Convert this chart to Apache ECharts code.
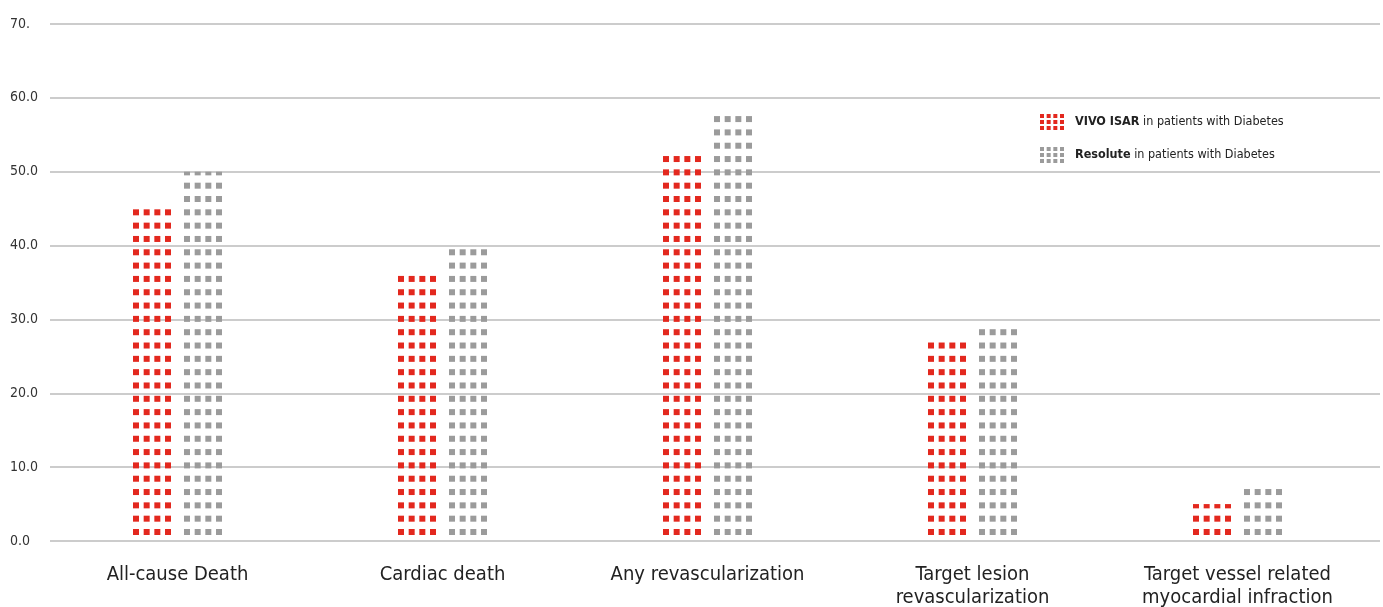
<!DOCTYPE html>
<html>
<head>
<meta charset="utf-8">
<script src="https://cdn.jsdelivr.net/npm/echarts@6/dist/echarts.min.js"></script>
<style>
html,body{margin:0;padding:0;background:#fff;}
#chart{width:1383px;height:607px;}
</style>
</head>
<body>
<div id="chart"></div>
<script>
const categories = ['All-cause Death', 'Cardiac death', 'Any revascularization', 'Target lesion\nrevascularization', 'Target vessel related\nmyocardial infraction'];
const seriesNames = ['VIVO ISAR in patients with Diabetes', 'Resolute in patients with Diabetes'];
const vivoValues = [45, 36, 52.2, 27, 5];
const resoluteValues = [50, 39.6, 57.6, 29, 7.1];
const yTickLabels = ['0.0', '10.0', '20.0', '30.0', '40.0', '50.0', '60.0', '70.'];

const FONT = "'Liberation Sans Narrow', 'DejaVu Sans Condensed', 'Roboto', sans-serif";
const RED = '#e3281e';
const GREY = '#9b9b9b';

// legend icon: 4 x 3 grid of small squares
let iconPath = 'path://';
for (let r = 0; r < 3; r++) {
  for (let c = 0; c < 4; c++) {
    const x = c * 6.67, y = r * 6;
    iconPath += 'M' + x + ',' + y + 'h4v4h-4Z';
  }
}

function makeRender(side) {
  return function (params, api) {
    const idx = api.value(0);
    const val = api.value(1);
    const base = api.coord([idx, 0]);
    const topY = api.coord([idx, val])[1];
    const cx = base[0];
    const baseY = base[1];
    const barW = 38, gap = 6.5, sq = 6, rowStep = 13.32;
    const left = side === 0 ? cx - gap - barW : cx + gap;
    const colStep = (barW - sq) / 3;
    const children = [];
    for (let k = 0; ; k++) {
      const y = baseY - 12 - rowStep * k;
      if (y + sq <= topY) break;
      const y0 = Math.max(y, topY);
      const h = y + sq - y0;
      for (let c = 0; c < 4; c++) {
        children.push({
          type: 'rect',
          shape: { x: left + c * colStep, y: y0, width: sq, height: h },
          style: { fill: api.visual('color') }
        });
      }
    }
    return { type: 'group', children: children };
  };
}

const chart = echarts.init(document.getElementById('chart'));
chart.setOption({
  animation: false,
  backgroundColor: '#ffffff',
  grid: [
    { left: 50, right: 3, top: 24, bottom: 66, containLabel: false, outerBoundsMode: 'none' },
    { left: 45, right: 13, top: 24, bottom: 66, containLabel: false, outerBoundsMode: 'none' }
  ],
  legend: {
    orient: 'vertical',
    left: 1040,
    top: 114,
    padding: 0,
    itemWidth: 24,
    itemHeight: 16,
    itemGap: 17,
    data: seriesNames.map(n => ({ name: n, icon: iconPath })),
    formatter: function (name) {
      const i = name.indexOf(' in ');
      return '{b|' + name.slice(0, i) + '}' + name.slice(i);
    },
    textStyle: {
      fontFamily: FONT,
      fontSize: 12.5,
      color: '#222',
      padding: [0, 0, 0, 6],
      rich: {
        b: { fontFamily: FONT, fontSize: 12.5, fontWeight: 'bold', color: '#222' }
      }
    }
  },
  xAxis: [
    { type: 'category', gridIndex: 0, data: categories, show: false },
    {
      type: 'category', gridIndex: 1, data: categories,
      axisLine: { show: false }, axisTick: { show: false },
      axisLabel: {
        interval: 0, margin: 22, fontFamily: FONT, fontSize: 20,
        lineHeight: 23, color: '#222'
      }
    }
  ],
  yAxis: [
    {
      type: 'value', gridIndex: 0, min: 0, max: 70, interval: 10,
      axisLine: { show: false }, axisTick: { show: false },
      splitLine: { lineStyle: { color: '#cccccc', width: 2 } },
      axisLabel: {
        align: 'left', margin: 40, fontFamily: FONT, fontSize: 14, color: '#333',
        formatter: function (v) { return yTickLabels[Math.round(v / 10)]; }
      }
    },
    {
      type: 'value', gridIndex: 1, min: 0, max: 70, interval: 10, show: false,
      splitLine: { show: false }
    }
  ],
  series: [
    {
      name: seriesNames[0], type: 'custom', xAxisIndex: 1, yAxisIndex: 1,
      itemStyle: { color: RED },
      renderItem: makeRender(0),
      encode: { x: 0, y: 1 },
      data: vivoValues.map((v, i) => [i, v])
    },
    {
      name: seriesNames[1], type: 'custom', xAxisIndex: 1, yAxisIndex: 1,
      itemStyle: { color: GREY },
      renderItem: makeRender(1),
      encode: { x: 0, y: 1 },
      data: resoluteValues.map((v, i) => [i, v])
    }
  ]
});
</script>
</body>
</html>
